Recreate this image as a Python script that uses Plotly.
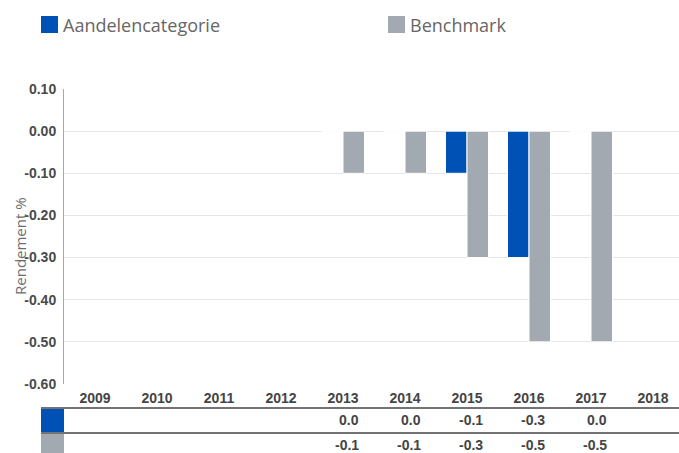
import plotly.graph_objects as go

# ---- data ----
years = ["2009", "2010", "2011", "2012", "2013", "2014", "2015", "2016", "2017", "2018"]
series_names = ["Aandelencategorie", "Benchmark"]
fund_values = [None, None, None, None, 0.0, 0.0, -0.1, -0.3, 0.0, None]
bench_values = [None, None, None, None, -0.1, -0.1, -0.3, -0.5, -0.5, None]
y_ticks = [0.10, 0.00, -0.10, -0.20, -0.30, -0.40, -0.50, -0.60]
y_title = "Rendement %"

BLUE = "#0051b5"
GRAY = "#a2a9b1"

W, H = 679, 453
L, R, T, B = 64, 0, 89, 69
PW, PH = W - L - R, H - T - B
cat_w = 62.0  # px per category


def px_x(px):
    return (px - L) / PW


def px_y(py):
    return (H - B - py) / PH


fig = go.Figure()
fig.add_bar(x=list(range(len(years))), y=fund_values, name=series_names[0],
            marker=dict(color=BLUE, line=dict(color="white", width=1)))
fig.add_bar(x=list(range(len(years))), y=bench_values, name=series_names[1],
            marker=dict(color=GRAY, line=dict(color="white", width=1)))

shapes = []
annotations = []

bargap = 1 - 43.0 / cat_w
half = (1 - bargap) / 2

# zero-height bars hide the gridline under them
for i, v in enumerate(fund_values):
    if v == 0:
        shapes.append(dict(type="line", xref="x", yref="y", x0=i - half, x1=i, y0=0, y1=0,
                           line=dict(color="white", width=2), layer="below"))
for i, v in enumerate(bench_values):
    if v == 0:
        shapes.append(dict(type="line", xref="x", yref="y", x0=i, x1=i + half, y0=0, y1=0,
                           line=dict(color="white", width=2), layer="below"))

# legend
leg = [(41, BLUE, series_names[0]), (388, GRAY, series_names[1])]
for x0, col, name in leg:
    shapes.append(dict(type="rect", xref="paper", yref="paper",
                       x0=px_x(x0), x1=px_x(x0 + 17), y0=px_y(16), y1=px_y(33),
                       fillcolor=col, line=dict(width=0)))
    annotations.append(dict(xref="paper", yref="paper", x=px_x(x0 + 20), y=px_y(25),
                            text=name, showarrow=False, xanchor="left", yanchor="middle",
                            font=dict(family="Open Sans", size=18, color="#666666")))

# table below
for py in (408, 433):
    shapes.append(dict(type="line", xref="paper", yref="paper", x0=px_x(41), x1=1,
                       y0=px_y(py), y1=px_y(py), line=dict(color="#444444", width=1.3)))
for (yt, yb), col in (((409, 432), BLUE), ((434, 455), GRAY)):
    shapes.append(dict(type="rect", xref="paper", yref="paper", x0=px_x(41), x1=px_x(64),
                       y0=px_y(yt), y1=px_y(yb), fillcolor=col, line=dict(width=0)))

for row_vals, py in ((fund_values, 420), (bench_values, 445)):
    for i, v in enumerate(row_vals):
        if v is None:
            continue
        annotations.append(dict(xref="x", yref="paper", x=i, y=px_y(py), xshift=18,
                                text=f"{v:.1f}", showarrow=False, xanchor="right",
                                yanchor="middle",
                                font=dict(family="Liberation Sans Narrow, Arial Narrow, Liberation Sans",
                                          size=14, color="#444444", weight="bold")))

annotations.append(dict(xref="paper", yref="paper", x=px_x(20), y=px_y(246),
                        text=y_title, textangle=-90, showarrow=False,
                        xanchor="center", yanchor="middle",
                        font=dict(family="Open Sans", size=15, color="#6e6e6e")))

fig.update_layout(
    width=W, height=H,
    margin=dict(l=L, r=R, t=T, b=B, pad=0),
    paper_bgcolor="white", plot_bgcolor="white",
    barmode="group", bargap=bargap, bargroupgap=0,
    showlegend=False,
    shapes=shapes, annotations=annotations,
    xaxis=dict(range=[-0.5, -0.5 + PW / cat_w], tickmode="array",
               tickvals=list(range(len(years))), ticktext=years,
               showgrid=False, zeroline=False, showline=False, ticks="",
               ticklabelstandoff=4,
               tickfont=dict(family="Liberation Sans, Arial", size=14, color="#444444",
                             weight="bold")),
    yaxis=dict(range=[-0.6, 0.1], tickmode="array", tickvals=y_ticks,
               ticktext=[f"{v:.2f}" for v in y_ticks],
               showgrid=True, gridcolor="#e6e6e6", gridwidth=1,
               zeroline=False, showline=True, linecolor="#a8a8a8", linewidth=1,
               ticks="", ticklabelstandoff=4,
               tickfont=dict(family="Liberation Sans, Arial", size=14, color="#4a4a4a",
                             weight="bold")),
)

fig.write_html("out.html", config={"displayModeBar": False},
               post_script="document.body.style.margin='0';")
